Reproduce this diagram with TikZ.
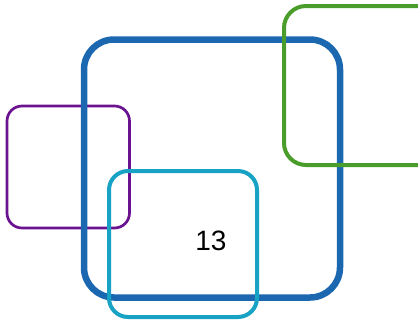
\documentclass[tikz,border=0pt]{standalone}
\usepackage{fontspec}
\setmainfont{Liberation Sans}
\definecolor{cblue}{HTML}{1B68B0}
\definecolor{cgreen}{HTML}{4A9D2A}
\definecolor{cpurple}{HTML}{6A1290}
\definecolor{ccyan}{HTML}{18A3C4}
\begin{document}
\begin{tikzpicture}[x=1pt,y=-1pt,
  frame/.style={draw,fill=none}]
\useasboundingbox (0,0) rectangle (418,322);
\clip (0,0) rectangle (418,322);
\draw[frame,cpurple,line width=2.7pt,rounded corners=15pt] (7,106) rectangle (129.5,228);
\draw[frame,cblue,line width=6.5pt,rounded corners=30pt] (84,39.5) rectangle (340,297.5);
\draw[frame,ccyan,line width=4pt,rounded corners=19pt] (109,171) rectangle (257,317);
\draw[frame,cgreen,line width=4pt,rounded corners=22pt] (284,6) rectangle (480,165);
\node[font=\fontsize{28}{32}\selectfont,inner sep=0pt] (t) at (211,241) {13};
\end{tikzpicture}
\end{document}
